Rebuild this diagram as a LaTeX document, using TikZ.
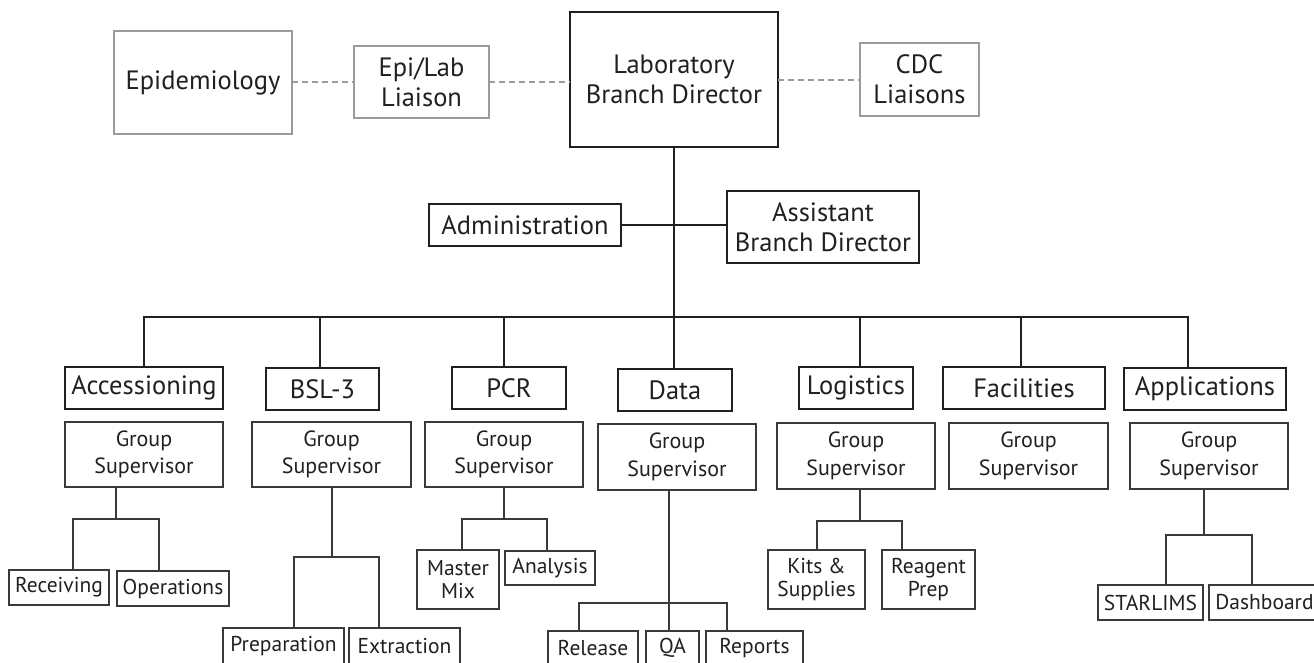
\documentclass[tikz,border=0pt]{standalone}
\usepackage{fontspec}
\setmainfont{PT Sans}
\definecolor{ink}{HTML}{231F20}
\definecolor{thinline}{HTML}{3A3A3A}
\definecolor{greyline}{HTML}{9B9B9B}
\newcommand{\bigtxt}{\fontsize{26.5}{30}\selectfont}
\newcommand{\gstxt}{\fontsize{22}{27.7}\selectfont}
\newcommand{\subtxt}{\fontsize{21.5}{23.5}\selectfont}
\newcommand{\bx}[7]{\node[#1, minimum width={#5-#3}, minimum height={#6-#4}] (#2) at ({(#3+#5)/2},{(#4+#6)/2}) {#7};}
\tikzset{
  every node/.style={inner sep=0pt, outer sep=0pt, align=center, text=ink},
  greybox/.style={draw=greyline, line width=2pt, font=\bigtxt},
  mainbox/.style={draw=ink, line width=2.2pt, font=\bigtxt},
  gsbox/.style={draw=thinline, line width=1.3pt, font=\gstxt},
  subbox/.style={draw=thinline, line width=1.3pt, font=\subtxt},
  mainline/.style={draw=ink, line width=2pt},
  subline/.style={draw=thinline, line width=1.3pt},
  dashline/.style={draw=greyline, line width=2pt, dash pattern=on 6pt off 4pt}
}
\begin{document}
\begin{tikzpicture}[x=1pt,y=-1pt]
\useasboundingbox (0,0) rectangle (1314,662);
% top row
\bx{greybox}{epi}{114}{31}{292}{134}{Epidemiology}
\bx{greybox}{liaison}{354}{46}{489}{118}{Epi/Lab\\Liaison}
\bx{mainbox}{lbd}{570}{12}{778}{147}{Laboratory\\Branch Director}
\bx{greybox}{cdc}{860}{43}{979}{116}{CDC\\Liaisons}
\draw[dashline] (epi.east |- liaison.west) -- (liaison.west);
\draw[dashline] (liaison.east) -- (liaison.east -| lbd.west);
\draw[dashline] (lbd.east |- cdc.west) -- (cdc.west);
% admin
\bx{mainbox}{admin}{429}{204}{621}{246}{Administration}
\bx{mainbox}{asst}{727}{191}{919}{263}{Assistant\\Branch Director}
\draw[mainline] (admin.east) -- (admin.east -| asst.west);
% departments
\bx{mainbox}{acc}{65}{367}{223}{409}{Accessioning}
\bx{mainbox}{bsl}{266}{368}{379}{410}{BSL-3}
\bx{mainbox}{pcr}{452}{367}{566}{409}{PCR}
\bx{mainbox}{data}{618}{369}{732}{411}{Data}
\bx{mainbox}{log}{799}{367}{913}{409}{Logistics}
\bx{mainbox}{fac}{943}{367}{1105}{409}{Facilities}
\bx{mainbox}{app}{1124}{368}{1286}{410}{Applications}
\coordinate (d1) at (144,317);
\coordinate (d2) at (320,317);
\coordinate (d3) at (504,317);
\coordinate (d4) at (674,317);
\coordinate (d5) at (860,317);
\coordinate (d6) at (1021,317);
\coordinate (d7) at (1188,317);
\draw[mainline] (lbd.south) -- (data.north -| lbd.south);
\draw[mainline, line cap=rect] (d1) -- (d7);
\draw[mainline] (d1) -- (acc.north -| d1);
\draw[mainline] (d2) -- (bsl.north -| d2);
\draw[mainline] (d3) -- (pcr.north -| d3);
\draw[mainline] (d5) -- (log.north -| d5);
\draw[mainline] (d6) -- (fac.north -| d6);
\draw[mainline] (d7) -- (app.north -| d7);
% group supervisors
\bx{gsbox}{gsacc}{65}{422}{223}{487}{Group\\Supervisor}
\bx{gsbox}{gsbsl}{252}{422}{411}{487}{Group\\Supervisor}
\bx{gsbox}{gspcr}{425}{422}{583}{487}{Group\\Supervisor}
\bx{gsbox}{gsdata}{598}{424}{756}{490}{Group\\Supervisor}
\bx{gsbox}{gslog}{777}{423}{935}{489}{Group\\Supervisor}
\bx{gsbox}{gsfac}{949}{423}{1108}{489}{Group\\Supervisor}
\bx{gsbox}{gsapp}{1130}{423}{1288}{489}{Group\\Supervisor}
% sub units
\bx{subbox}{rec}{9}{570}{109}{605}{Receiving}
\bx{subbox}{ops}{117}{571}{229}{606}{Operations}
\bx{subbox}{prep}{223}{628}{344}{664}{Preparation}
\bx{subbox}{ext}{349}{628}{460}{664}{Extraction}
\bx{subbox}{mm}{417}{550}{499}{609}{Master\\Mix}
\bx{subbox}{ana}{505}{551}{595}{585}{Analysis}
\bx{subbox}{rel}{548}{631}{638}{665}{Release}
\bx{subbox}{qa}{646}{631}{699}{665}{QA}
\bx{subbox}{rep}{706}{631}{803}{665}{Reports}
\bx{subbox}{kits}{768}{550}{865}{609}{Kits \&\\Supplies}
\bx{subbox}{rea}{882}{550}{975}{609}{Reagent\\Prep}
\bx{subbox}{star}{1098}{585}{1203}{620}{STARLIMS}
\bx{subbox}{dash}{1209}{585}{1320}{620}{Dashboard}
% sub connectors
\coordinate (jacc) at (116,519);
\draw[subline] (gsacc.south -| jacc) -- (jacc);
\draw[subline] (rec.north -| 73,0) |- (jacc) -| (ops.north -| 159,0);
\coordinate (jbsl) at (332,557);
\draw[subline] (gsbsl.south -| jbsl) -- (jbsl);
\draw[subline] (prep.north -| 294,0) |- (jbsl) -| (ext.north -| 379,0);
\coordinate (jpcr) at (504,519);
\draw[subline] (gspcr.south -| jpcr) -- (jpcr);
\draw[subline] (mm.north -| 462,0) |- (jpcr) -| (ana.north -| 547,0);
\coordinate (jdata) at (669,603);
\draw[subline] (gsdata.south -| jdata) -- (qa.north -| jdata);
\draw[subline] (rel.north -| 579,0) |- (jdata) -| (rep.north -| 727,0);
\coordinate (jlog) at (860,521);
\draw[subline] (gslog.south -| jlog) -- (jlog);
\draw[subline] (kits.north -| 817,0) |- (jlog) -| (rea.north -| 902,0);
\coordinate (japp) at (1204,535);
\draw[subline] (gsapp.south -| japp) -- (japp);
\draw[subline] (star.north -| 1166,0) |- (japp) -| (dash.north -| 1252,0);
\end{tikzpicture}
\end{document}
